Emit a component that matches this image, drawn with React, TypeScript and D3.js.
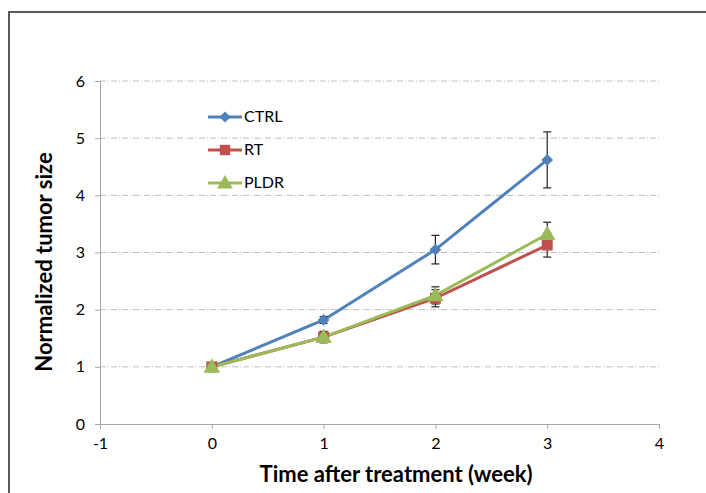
import React, { useEffect, useRef } from "react";
import * as d3 from "d3";

const weeks = [0, 1, 2, 3];
const seriesNames = ["CTRL", "RT", "PLDR"];
const ctrlValues = [1, 1.82, 3.05, 4.62];
const ctrlErrors = [0, 0.06, 0.25, 0.49];
const rtValues = [1, 1.52, 2.2, 3.13];
const rtErrors = [0, 0.08, 0.15, 0.21];
const pldrValues = [1, 1.52, 2.25, 3.32];
const pldrErrors = [0, 0.1, 0.15, 0.21];
const xTicks = [-1, 0, 1, 2, 3, 4];
const yTicks = [0, 1, 2, 3, 4, 5, 6];

const colors = ["#4F81BD", "#C0504D", "#9BBB59"];
const symbols = [d3.symbolSquare, d3.symbolSquare, d3.symbolTriangle];
const symbolSizes = [70, 120, 120];
const rotations = [45, 0, 0];

export default function App() {
  const ref = useRef<SVGSVGElement>(null);

  useEffect(() => {
    const svg = d3.select(ref.current);
    svg.selectAll("*").remove();
    const font = "Lato, 'Open Sans', sans-serif";

    const x = d3.scaleLinear().domain([-1, 4]).range([100, 659]);
    const y = d3.scaleLinear().domain([0, 6]).range([424, 81]);

    // outer frame
    svg
      .append("rect")
      .attr("x", 9)
      .attr("y", 12)
      .attr("width", 720)
      .attr("height", 500)
      .attr("fill", "none")
      .attr("stroke", "#5a5a5a")
      .attr("stroke-width", 2);

    // grid
    svg
      .append("g")
      .selectAll("line")
      .data(yTicks.filter((t) => t > 0))
      .enter()
      .append("line")
      .attr("x1", x(-1))
      .attr("x2", x(4))
      .attr("y1", (d) => y(d))
      .attr("y2", (d) => y(d))
      .attr("stroke", "#bfbfbf")
      .attr("stroke-dasharray", "6,2,1,2");

    const fmt = (d: d3.NumberValue) => String(d);
    const yAxis = svg
      .append("g")
      .attr("transform", `translate(${x(-1)},0)`)
      .call(d3.axisLeft(y).tickValues(yTicks).tickSize(5).tickPadding(10).tickFormat(fmt));
    const xAxis = svg
      .append("g")
      .attr("transform", `translate(0,${y(0)})`)
      .call(d3.axisBottom(x).tickValues(xTicks).tickSize(5).tickPadding(9).tickFormat(fmt));
    [xAxis, yAxis].forEach((a) => {
      a.select(".domain").attr("stroke", "#a6a6a6");
      a.selectAll(".tick line").attr("stroke", "#a6a6a6");
      a.selectAll("text").attr("font-family", font).attr("font-size", 16).attr("fill", "#000");
    });

    const allValues = [ctrlValues, rtValues, pldrValues];
    const allErrors = [ctrlErrors, rtErrors, pldrErrors];

    const line = d3
      .line<number>()
      .x((_, i) => x(weeks[i]))
      .y((d) => y(d));

    allValues.forEach((vals, s) => {
      svg
        .append("path")
        .attr("d", line(vals))
        .attr("fill", "none")
        .attr("stroke", colors[s])
        .attr("stroke-width", 3);
    });

    allValues.forEach((vals, s) => {
      const g = svg.append("g");
      vals.forEach((v, i) => {
        const e = allErrors[s][i];
        if (e <= 0) return;
        const cx = x(weeks[i]);
        g.append("line")
          .attr("x1", cx).attr("x2", cx)
          .attr("y1", y(v + e)).attr("y2", y(v - e))
          .attr("stroke", "#222").attr("stroke-width", 1.2);
        [v + e, v - e].forEach((b) => {
          g.append("line")
            .attr("x1", cx - 4).attr("x2", cx + 4)
            .attr("y1", y(b)).attr("y2", y(b))
            .attr("stroke", "#222").attr("stroke-width", 1.2);
        });
      });
    });

    allValues.forEach((vals, s) => {
      svg
        .append("g")
        .selectAll("path")
        .data(vals)
        .enter()
        .append("path")
        .attr("d", d3.symbol(symbols[s], symbolSizes[s])())
        .attr(
          "transform",
          (d, i) => `translate(${x(weeks[i])},${y(d) + (s === 2 ? 1 : 0)}) rotate(${rotations[s]})`
        )
        .attr("fill", colors[s]);
    });

    // legend
    const legendY = [117, 150, 183];
    seriesNames.forEach((name, s) => {
      const g = svg.append("g").attr("transform", `translate(0,${legendY[s]})`);
      g.append("line").attr("x1", 208).attr("x2", 242).attr("stroke", colors[s]).attr("stroke-width", 3);
      g.append("path")
        .attr("d", d3.symbol(symbols[s], symbolSizes[s] * 0.9)())
        .attr("transform", `translate(225,${s === 2 ? 1 : 0}) rotate(${rotations[s]})`)
        .attr("fill", colors[s]);
      g.append("text")
        .attr("x", 244)
        .attr("y", 5)
        .attr("font-family", font)
        .attr("font-size", 16)
        .text(name);
    });

    svg
      .append("text")
      .attr("x", 396)
      .attr("y", 482)
      .attr("text-anchor", "middle")
      .attr("font-family", font)
      .attr("font-weight", "bold")
      .attr("font-size", 22)
      .text("Time after treatment (week)");

    svg
      .append("text")
      .attr("transform", `translate(52,262) rotate(-90)`)
      .attr("text-anchor", "middle")
      .attr("font-family", font)
      .attr("font-weight", "bold")
      .attr("font-size", 22)
      .text("Normalized tumor size");
  }, []);

  return (
    <svg
      ref={ref}
      width={706}
      height={493}
      style={{ position: "absolute", left: 0, top: 0, background: "#fff" }}
    />
  );
}
